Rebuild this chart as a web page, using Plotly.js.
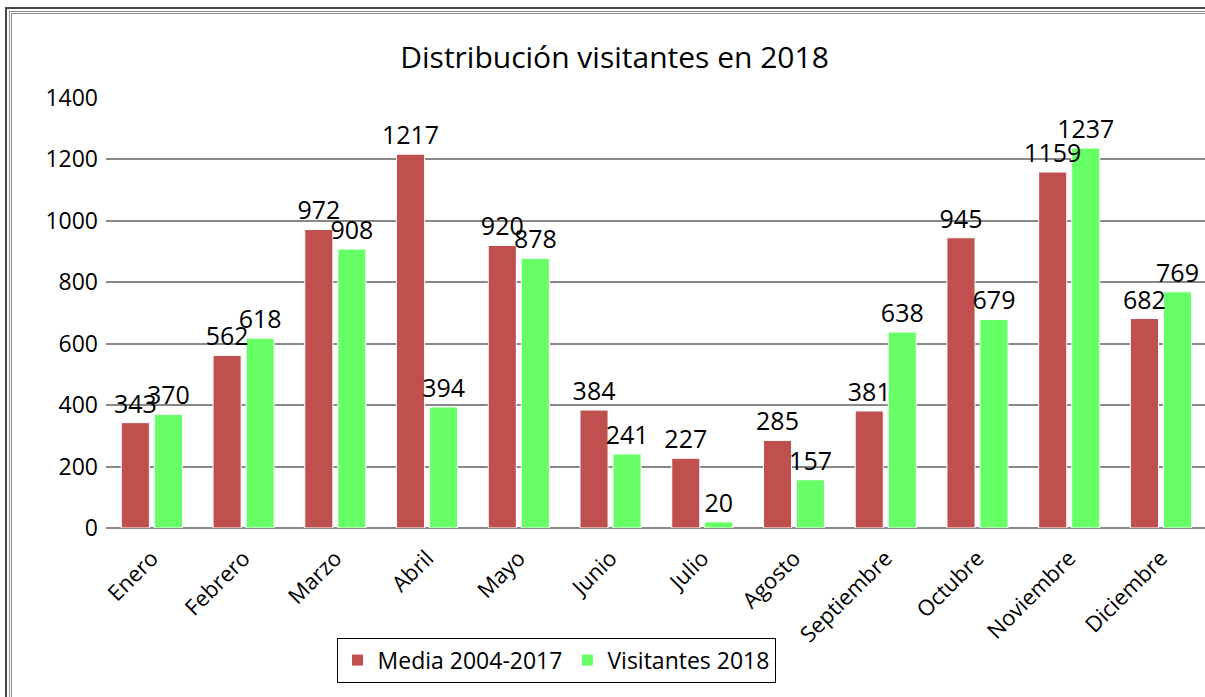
<!DOCTYPE html>
<html>
<head>
<meta charset="utf-8">
<script src="https://cdn.plot.ly/plotly-3.0.1.min.js"></script>
<style>
html,body{margin:0;padding:0;background:#fff;overflow:hidden;}
#wrap{position:relative;width:1205px;height:697px;}
#chart{position:absolute;left:0;top:0;width:1205px;height:697px;}
#frame1{position:absolute;left:5px;top:7px;width:1300px;height:800px;border-left:2px solid #444;border-top:2px solid #444;pointer-events:none;}
#frame2{position:absolute;left:9px;top:11px;width:1300px;height:800px;border-left:3px double #8a8f98;border-top:3px double #8a8f98;pointer-events:none;}
</style>
</head>
<body>
<div id="wrap">
<div id="chart"></div>
<div id="frame1"></div>
<div id="frame2"></div>
</div>
<script>
const meses = ["Enero","Febrero","Marzo","Abril","Mayo","Junio","Julio","Agosto","Septiembre","Octubre","Noviembre","Diciembre"];
const media = [343,562,972,1217,920,384,227,285,381,945,1159,682];
const visitantes = [370,618,908,394,878,241,20,157,638,679,1237,769];
const yTicks = [0,200,400,600,800,1000,1200,1400];

const FONT = "'Open Sans', Calibri, Carlito, sans-serif";
const labelFont = {family:FONT, size:25, color:"#000"};

const traces = [
  {
    type:"bar", name:"Media 2004-2017", x:meses, y:media,
    marker:{color:"#C0504D", line:{color:"#ffffff", width:1}}
  },
  {
    type:"bar", name:"Visitantes 2018", x:meses, y:visitantes,
    marker:{color:"#66FF66", line:{color:"#ffffff", width:1}}
  },
  // transparent copies on an overlaid axis pair, so the data labels sit above all bars
  {
    type:"bar", name:"Media 2004-2017", x:meses, y:media, xaxis:"x2", yaxis:"y2", showlegend:false,
    marker:{color:"rgba(0,0,0,0)", line:{width:0}},
    text:media.map(String), textposition:"outside", cliponaxis:false, constraintext:"none",
    textfont:labelFont
  },
  {
    type:"bar", name:"Visitantes 2018", x:meses, y:visitantes, xaxis:"x2", yaxis:"y2", showlegend:false,
    marker:{color:"rgba(0,0,0,0)", line:{width:0}},
    text:visitantes.map(String), textposition:"outside", cliponaxis:false, constraintext:"none",
    textfont:labelFont
  }
];

const layout = {
  width:1205, height:697,
  margin:{l:106, r:0, t:98, b:169, pad:0},
  paper_bgcolor:"#fff", plot_bgcolor:"#fff",
  font:{family:FONT, color:"#000"},
  title:{text:"Distribución visitantes en 2018", font:{family:FONT, size:30, color:"#000"},
         xref:"container", x:0.51, xanchor:"center", yref:"container", y:0.917, yanchor:"middle"},
  barmode:"group", bargap:0.28, bargroupgap:0.15,
  xaxis:{type:"category", tickangle:-45, tickfont:{family:FONT, size:22, color:"#000"},
         showgrid:false, showline:false, ticks:"", range:[-0.5,11.48], fixedrange:true,
         ticklabelstandoff:12},
  yaxis:{range:[0,1400], tickvals:yTicks, ticktext:yTicks.map(String),
         tickfont:{family:FONT, size:23, color:"#000"},
         showgrid:true, gridcolor:"#888888", gridwidth:2,
         zeroline:true, zerolinecolor:"#888888", zerolinewidth:2,
         showline:false, ticks:"", ticklabelstandoff:7, fixedrange:true},
  xaxis2:{type:"category", overlaying:"x", range:[-0.5,11.48], visible:false, fixedrange:true},
  yaxis2:{overlaying:"y", range:[0,1400], visible:false, fixedrange:true},
  showlegend:true,
  legend:{orientation:"h", x:0.4095, xanchor:"center", xref:"paper", y:-0.255, yanchor:"top", yref:"paper",
          bordercolor:"#000", borderwidth:1, bgcolor:"#fff",
          font:{family:FONT, size:23, color:"#000"}, itemwidth:30, traceorder:"normal"}
};

Plotly.newPlot("chart", traces, layout, {displayModeBar:false, staticPlot:true});
</script>
</body>
</html>
